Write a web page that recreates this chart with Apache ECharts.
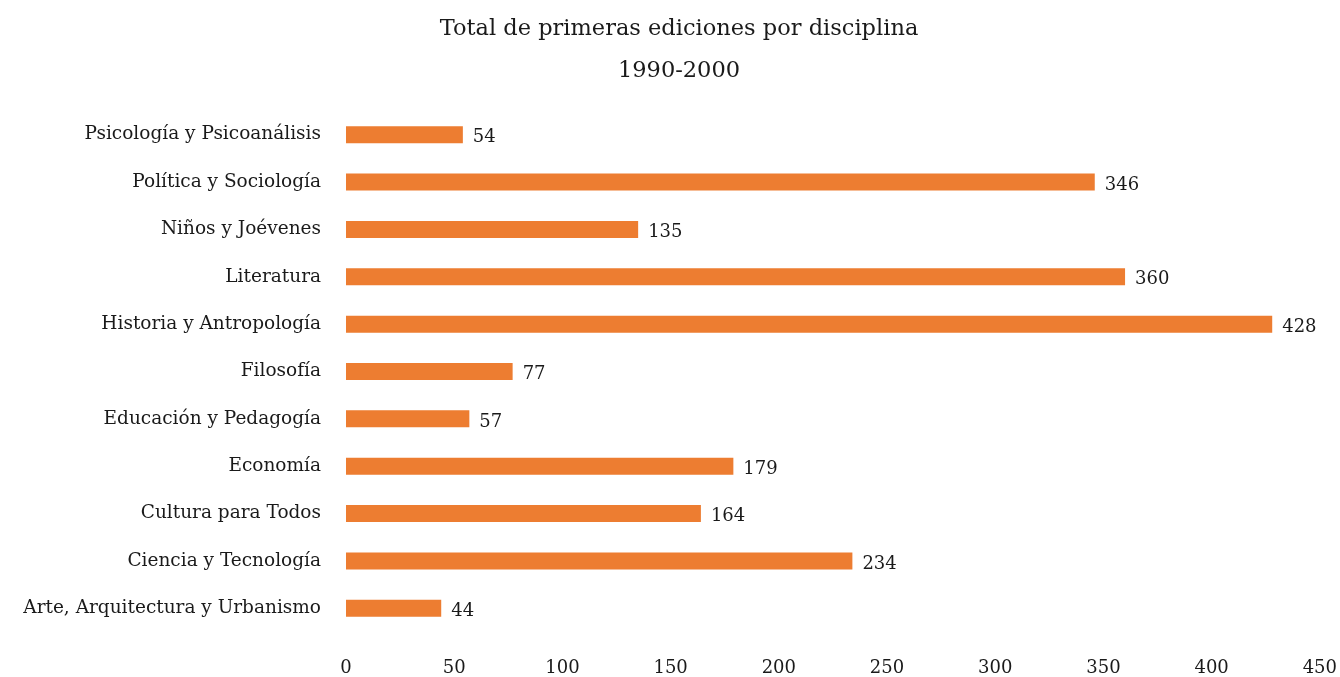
<!DOCTYPE html>
<html>
<head>
<meta charset="utf-8">
<script src="https://cdn.jsdelivr.net/npm/echarts@6/dist/echarts.min.js"></script>
<style>
  html, body { margin: 0; padding: 0; background: #ffffff; }
  #chart { width: 1340px; height: 677px; }
</style>
</head>
<body>
<div id="chart"></div>
<script>
// Disciplines, listed bottom to top along the category axis
const categories = [
  'Arte, Arquitectura y Urbanismo',
  'Ciencia y Tecnología',
  'Cultura para Todos',
  'Economía',
  'Educación y Pedagogía',
  'Filosofía',
  'Historia y Antropología',
  'Literatura',
  'Niños y Joévenes',
  'Política y Sociología',
  'Psicología y Psicoanálisis'
];

// First editions per discipline, 1990-2000
const firstEditions = [44, 234, 164, 179, 57, 77, 428, 360, 135, 346, 54];

const xTicks = [0, 50, 100, 150, 200, 250, 300, 350, 400, 450];

const FONT = '"DejaVu Serif", "Liberation Serif", serif';
const TEXT = '#1a1a1a';

const chart = echarts.init(document.getElementById('chart'));
chart.setOption({
  animation: false,
  backgroundColor: '#ffffff',
  title: {
    text: 'Total de primeras ediciones por disciplina\n1990-2000',
    left: 674,
    textAlign: 'center',
    top: 3,
    textStyle: {
      fontFamily: FONT,
      fontSize: 22.5,
      fontWeight: 'normal',
      color: TEXT,
      lineHeight: 42
    }
  },
  grid: { left: 346, right: 20, top: 111, bottom: 44, containLabel: false },
  xAxis: {
    type: 'value',
    min: xTicks[0],
    max: xTicks[xTicks.length - 1],
    interval: 50,
    axisLine: { show: false },
    axisTick: { show: false },
    splitLine: { show: false },
    axisLabel: {
      margin: 27,
      fontFamily: FONT,
      fontSize: 18,
      color: TEXT
    }
  },
  yAxis: {
    type: 'category',
    data: categories,
    axisLine: { show: false },
    axisTick: { show: false },
    axisLabel: {
      margin: 25,
      fontFamily: FONT,
      fontSize: 18.5,
      color: TEXT
    }
  },
  series: [{
    type: 'bar',
    data: firstEditions,
    barWidth: 17,
    itemStyle: { color: '#ED7D31' },
    label: {
      show: true,
      position: 'right',
      distance: 10,
      offset: [0, 3],
      fontFamily: FONT,
      fontSize: 18,
      color: TEXT
    }
  }]
});
</script>
</body>
</html>
